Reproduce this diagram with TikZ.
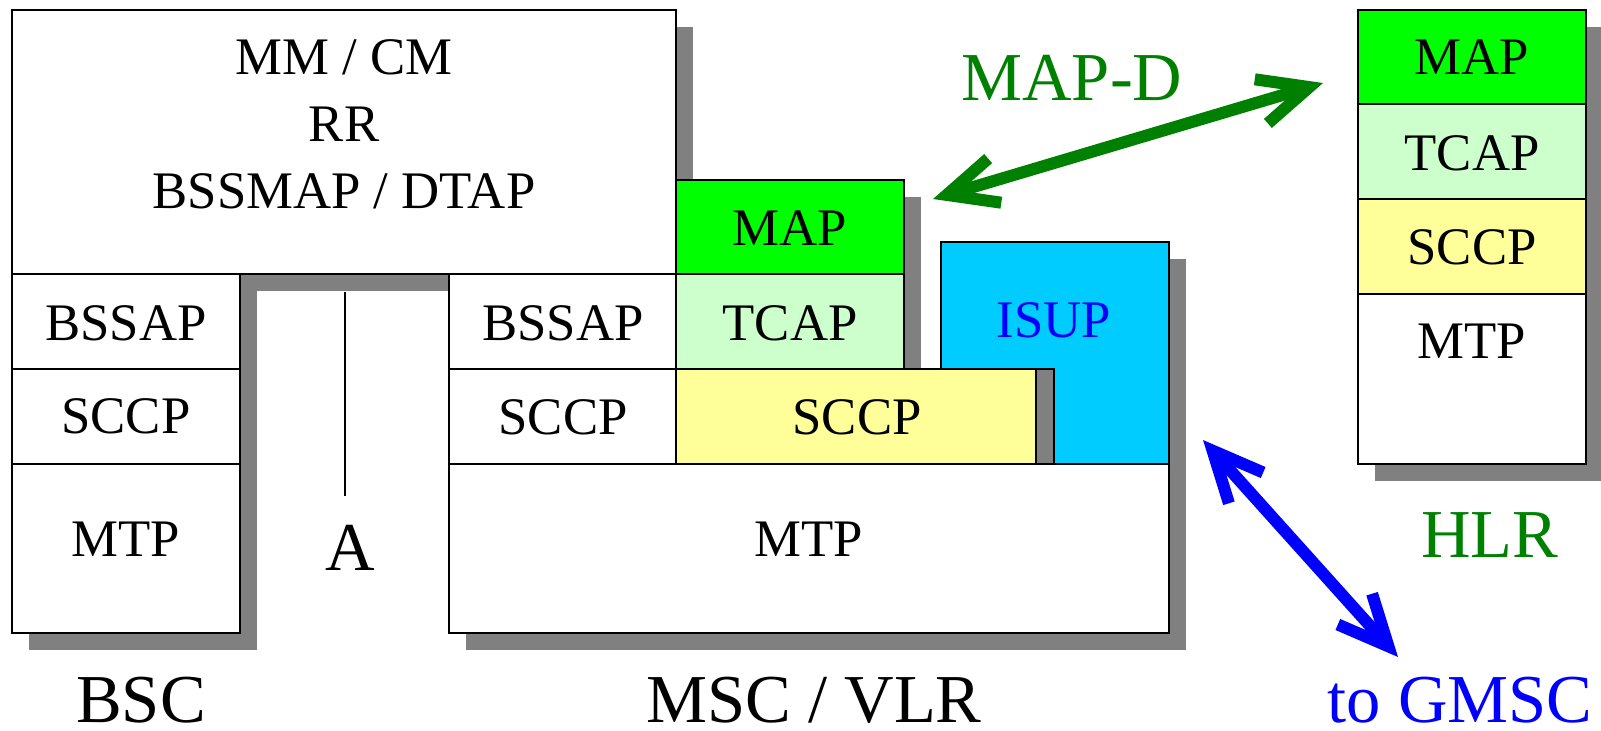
\documentclass[tikz,border=0pt]{standalone}
\usepackage{fontspec}
\setmainfont{Liberation Serif}
\usetikzlibrary{arrows.meta}
\definecolor{shadowgray}{HTML}{808080}
\definecolor{mapgreen}{HTML}{00FF00}
\definecolor{tcapgreen}{HTML}{CCFFCC}
\definecolor{sccpyellow}{HTML}{FFFF99}
\definecolor{isupblue}{HTML}{00CCFF}
\definecolor{labelgreen}{HTML}{008000}
\definecolor{labelblue}{HTML}{0000FF}
\tikzset{
  stackbox/.style={draw=black, line width=0.6pt},
  proto/.style={font=\fontsize{15}{18}\selectfont, anchor=base, inner sep=0pt},
  sitename/.style={font=\fontsize{19.5}{23}\selectfont, anchor=base, inner sep=0pt,
    text depth=0pt},
  link/.style={line width=1.2mm, line cap=round, line join=round,
    {Straight Barb[length=5mm,width=4.6mm]}-{Straight Barb[length=5mm,width=4.6mm]}}
}
\begin{document}
\begin{tikzpicture}[x=0.01cm, y=-0.01cm]
    \pgfmathsetmacro{\off}{17}
    \useasboundingbox (0,0) rectangle (1601,730);
    % shadows
    \foreach \xa/\ya/\xb/\yb in {12/10/676/274, 12/274/240/633, 449/274/676/464,
      676/180/904/369, 676/369/1036/464, 941/242/1169/464, 449/464/1169/633,
      1358/10/1586/464}
      \fill[shadowgray] (\xa+\off,\ya+\off) rectangle (\xb+\off,\yb+\off);
    % shared upper layers
    \draw[stackbox, fill=white] (12,10) rectangle (676,274);
    \node[proto] (mmcm) at (344,74) {MM / CM};
    \node[proto] (rr) at (344,141) {RR};
    \node[proto] (bssmap) at (344,208) {BSSMAP / DTAP};
    % BSC
    \draw[stackbox, fill=white] (12,274) rectangle (240,369);
    \draw[stackbox, fill=white] (12,369) rectangle (240,464);
    \draw[stackbox, fill=white] (12,464) rectangle (240,633);
    \node[proto] (bscbssap) at (126,340) {BSSAP};
    \node[proto] (bscsccp) at (126,433) {SCCP};
    \node[proto] (bscmtp) at (126,556) {MTP};
    % A interface
    \coordinate (atop) at (345,292);
    \coordinate (abot) at (345,496);
    \draw[line width=0.6pt] (atop) -- (abot);
    \node[sitename] (aif) at (350,570) {A};
    % MSC / VLR
    \draw[stackbox, fill=white] (449,274) rectangle (676,369);
    \draw[stackbox, fill=white] (449,369) rectangle (676,464);
    \draw[stackbox, fill=mapgreen] (676,180) rectangle (904,274);
    \draw[stackbox, fill=tcapgreen] (676,274) rectangle (904,369);
    \draw[stackbox, fill=sccpyellow] (676,369) rectangle (1036,464);
    \draw[stackbox, fill=isupblue] (941,242) -- (1169,242) -- (1169,464)
      -- (1054,464) -- (1054,369) -- (941,369) -- cycle;
    \draw[stackbox, fill=white] (449,464) rectangle (1169,633);
    \node[proto] (mscbssap) at (563,340) {BSSAP};
    \node[proto] (mscsccp) at (563,434) {SCCP};
    \node[proto] (mscmap) at (790,245) {MAP};
    \node[proto] (msctcap) at (790,340) {TCAP};
    \node[proto] (mscsccpb) at (857,434) {SCCP};
    \node[proto, text=labelblue] (mscisup) at (1054,337) {ISUP};
    \node[proto] (mscmtp) at (809,556) {MTP};
    % HLR
    \draw[stackbox, fill=mapgreen] (1358,10) rectangle (1586,104);
    \draw[stackbox, fill=tcapgreen] (1358,104) rectangle (1586,199);
    \draw[stackbox, fill=sccpyellow] (1358,199) rectangle (1586,294);
    \draw[stackbox, fill=white] (1358,294) rectangle (1586,464);
    \node[proto] (hlrmap) at (1472,74) {MAP};
    \node[proto] (hlrtcap) at (1472,170) {TCAP};
    \node[proto] (hlrsccp) at (1472,264) {SCCP};
    \node[proto] (hlrmtp) at (1472,358) {MTP};
    % names
    \node[sitename] (bsc) at (141,722) {BSC};
    \node[sitename] (msc) at (814,722) {MSC / VLR};
    \node[sitename, text=labelgreen] (hlr) at (1490,557) {HLR};
    \node[sitename, text=labelgreen] (mapd) at (1072,100) {MAP-D};
    \node[sitename, text=labelblue] (gmsc) at (1460,722) {to GMSC};
    % links
    \coordinate (mapdl) at (933,199);
    \coordinate (mapdr) at (1323,83);
    \draw[link, labelgreen] (mapdl) -- (mapdr);
    \coordinate (isupl) at (1203,440);
    \coordinate (isupr) at (1398,657);
    \draw[link, labelblue] (isupl) -- (isupr);
  \end{tikzpicture}
\end{document}
